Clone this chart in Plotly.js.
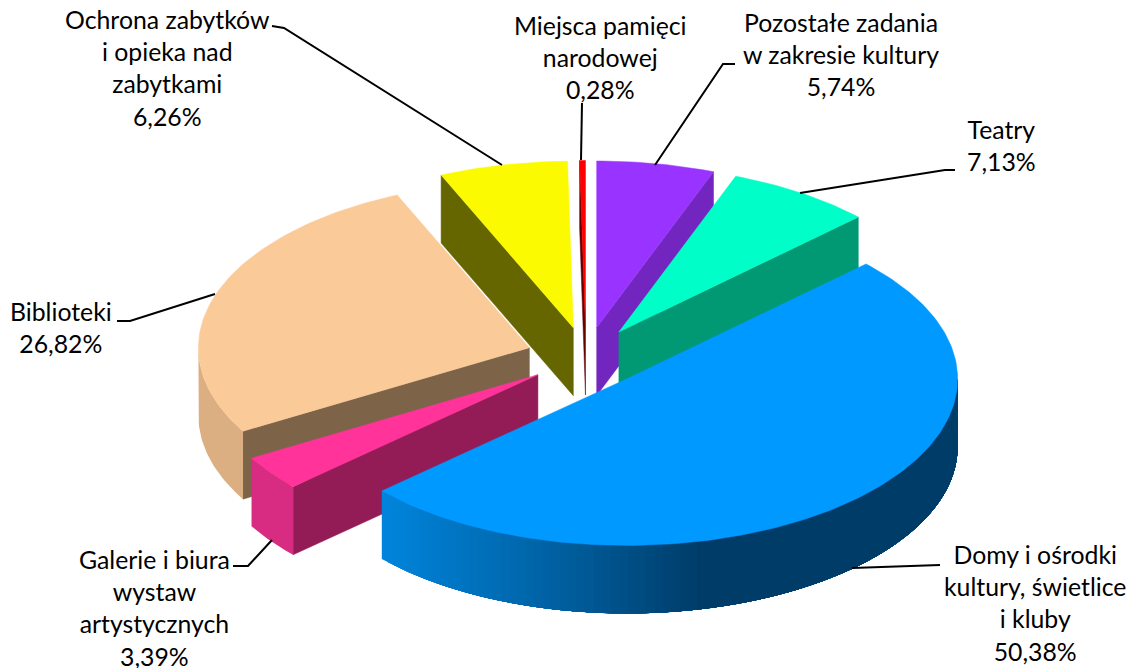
<!DOCTYPE html>
<html>
<head>
<meta charset="utf-8">
<script src="https://cdn.plot.ly/plotly-3.0.1.min.js"></script>
<style>html,body{margin:0;padding:0;background:#fff;overflow:hidden}</style>
</head>
<body>
<div id="chart" style="width:1131px;height:668px"></div>
<script>
// ---- data (clockwise from 12 o'clock) ----
const categories = ["Pozostałe zadania<br>w zakresie kultury","Teatry","Domy i ośrodki<br>kultury, świetlice<br>i kluby","Galerie i biura<br>wystaw<br>artystycznych","Biblioteki","Ochrona zabytków<br>i opieka nad<br>zabytkami","Miejsca pamięci<br>narodowej"];
const shares = [5.74,7.13,50.38,3.39,26.82,6.26,0.28];
const topColors  = ["#9933FF","#00FFC8","#0099FF","#FF3399","#FBCA99","#FBFA00","#FF0000"];
const wallColors = ["#7326BF","#009974","#005C99","#931C57","#7D6449","#666600","#660000"];
const rimColors  = ["#7326BF","#009974",null,"#D82B82","#DBAF82","#C0C000","#990000"];
const pull = 0.18;

// ---- presentation constants ----
const C = {x:586, y:357, rx:331, ry:166.5, depth:68};
const drawOrder = [5,6,0,1,4,3,2];
const labelPos = [[841,54.5],[1001,145],[1035,603],[154,607.5],[61,327],[167,67.5],[600,57.5]];
const leaders = [
  [[735,64],[723,64],[655,165]],
  [[955,170],[945,170],[800,193]],
  [[852,568],[925,565],[940,565]],
  [[233,566],[248,566],[272,540]],
  [[117,321],[130,321],[215,294]],
  [[272,26],[284,28],[502,165]],
  [[582,103],[581,160]]
];
const blueStops = [[382,[0,133,220]],[520,[0,104,174]],[600,[0,85,144]],[700,[0,60,104]]];

function blueAt(x){
  for(let i=0;i<blueStops.length-1;i++){
    const a=blueStops[i],b=blueStops[i+1];
    if(x<=b[0]){
      const t=Math.max(0,(x-a[0])/(b[0]-a[0]));
      return 'rgb('+a[1].map((v,k)=>Math.round(v+(b[1][k]-v)*t)).join(',')+')';
    }
  }
  return 'rgb(0,60,104)';
}
const rad = d=>d*Math.PI/180;
function poly(pts,color,w){
  return {type:'scatter',mode:'lines',x:pts.map(p=>p[0]),y:pts.map(p=>p[1]),fill:'toself',fillcolor:color,
    line:{color:color,width:w===undefined?0.5:w},hoverinfo:'skip',showlegend:false};
}

const total = shares.reduce((a,b)=>a+b,0);
let acc=0;
const wedges = shares.map(v=>{const a=acc/total*360; acc+=v; return {a:a,b:acc/total*360};});
const traces=[];
drawOrder.forEach(i=>{
  const w=wedges[i], mid=rad((w.a+w.b)/2);
  const A=[C.x+Math.sin(mid)*C.rx*pull, C.y-Math.cos(mid)*C.ry*pull];
  const P=deg=>[A[0]+Math.sin(rad(deg))*C.rx, A[1]-Math.cos(rad(deg))*C.ry];
  const D=p=>[p[0],p[1]+C.depth];
  const wall=deg=>{const p=P(deg);traces.push(poly([A,p,D(p),D(A),A],wallColors[i]));};
  if(Math.sin(rad(w.a))<-1e-6) wall(w.a);
  if(Math.sin(rad(w.b))>1e-6) wall(w.b);
  // rim, front-facing part only: each band is painted over the previous one, so no seams show
  const r0=Math.max(w.a,90), r1=Math.min(w.b,270);
  if(r1>r0){
    const step=rimColors[i]?(r1-r0):1.5;
    let prev=null;
    for(let d=r1;d>r0+1e-6;d-=step){
      const col=rimColors[i]||blueAt(P(Math.max(d-step/2,r0))[0]);
      if(col===prev) continue;
      prev=col;
      const n=Math.max(2,Math.ceil(d-r0)), top=[];
      for(let k=0;k<=n;k++) top.push(P(r0+(d-r0)*k/n));
      traces.push(poly(top.concat(top.slice().reverse().map(D)).concat([top[0]]),col,0));
    }
  }
  // top face
  const pts=[A], n=Math.max(2,Math.ceil((w.b-w.a)));
  for(let k=0;k<=n;k++) pts.push(P(w.a+(w.b-w.a)*k/n));
  pts.push(A);
  traces.push(poly(pts,topColors[i]));
});
leaders.forEach(l=>traces.push({type:'scatter',mode:'lines',x:l.map(p=>p[0]),y:l.map(p=>p[1]),
  line:{color:'#000',width:2},hoverinfo:'skip',showlegend:false}));

const annotations = categories.map((c,i)=>({
  xref:'x',yref:'y',x:labelPos[i][0],y:labelPos[i][1],xanchor:'center',yanchor:'middle',align:'center',
  showarrow:false,text:c+'<br>'+shares[i].toFixed(2).replace('.',',')+'%',
  font:{family:'Lato, Carlito, sans-serif',size:24.8,color:'#000'}
}));

const hidden={visible:false,fixedrange:true};
Plotly.newPlot('chart',traces,{
  width:1131,height:668,margin:{l:0,r:0,t:0,b:0},paper_bgcolor:'#fff',plot_bgcolor:'#fff',showlegend:false,
  xaxis:Object.assign({range:[0,1131]},hidden),
  yaxis:Object.assign({range:[668,0]},hidden),
  annotations:annotations
},{displayModeBar:false,staticPlot:true});
</script>
</body>
</html>
